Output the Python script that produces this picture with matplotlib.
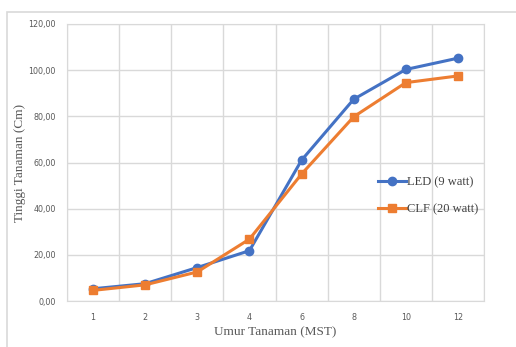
import matplotlib.pyplot as plt
import numpy as np
from matplotlib.patches import Rectangle

# umur tanaman (minggu setelah tanam) dan tinggi tanaman rata-rata
umur = ["1", "2", "3", "4", "6", "8", "10", "12"]
led = [5.3, 7.5, 14.5, 21.8, 61.0, 87.4, 100.3, 105.2]
clf = [4.6, 7.0, 12.6, 26.8, 55.0, 79.8, 94.6, 97.5]

W, H = 516, 347
fig = plt.figure(figsize=(W/100, H/100), dpi=100)

# chart area frame
fig.patches.append(Rectangle((7/W, -0.1), 1.2, 1 - 12/H + 0.1,
                             transform=fig.transFigure, fill=False,
                             edgecolor="#d9d9d9", linewidth=1.2))

ax = fig.add_axes([67/W, 1 - 301/H, (484-67)/W, (301-24)/H])
x = np.arange(len(umur))

ax.plot(x, led, color="#4472C4", linewidth=2.2, marker="o", markersize=6,
        label="LED (9 watt)", zorder=3)
ax.plot(x, clf, color="#ED7D31", linewidth=2.2, marker="s", markersize=6,
        label="CLF (20 watt)", zorder=3)

ax.set_xlim(-0.5, len(umur) - 0.5)
ax.set_ylim(0, 120)
ax.set_yticks(np.arange(0, 121, 20))
ax.set_yticklabels([f"{v},00" for v in range(0, 121, 20)])
ax.set_xticks(x)
ax.set_xticklabels(umur)
ax.set_xticks(np.arange(-0.5, len(umur)), minor=True)
ax.grid(True, axis="y", color="#d9d9d9", linewidth=1)
ax.grid(True, axis="x", which="minor", color="#d9d9d9", linewidth=1)
ax.tick_params(axis="both", which="both", length=0, labelsize=5.8,
               labelcolor="#595959", pad=9)
ax.tick_params(axis="y", pad=8)
for s in ax.spines.values():
    s.set_color("#d9d9d9")

ax.set_xlabel("Umur Tanaman (MST)", fontfamily="Liberation Serif",
              fontsize=9.5, color="#595959")
ax.set_ylabel("Tinggi Tanaman (Cm)", fontfamily="Liberation Serif",
              fontsize=9.5, color="#595959")
ax.xaxis.set_label_coords(0.5, -0.092)
ax.yaxis.set_label_coords(-0.098, 0.5)

leg = ax.legend(loc="center left", bbox_to_anchor=(0.72, 0.38), frameon=False,
                prop={"family": "Liberation Serif", "size": 9},
                labelspacing=1.15, handlelength=2.2, handletextpad=0.1)
for t in leg.get_texts():
    t.set_color("#404040")

fig.savefig("out.png", dpi=100)
